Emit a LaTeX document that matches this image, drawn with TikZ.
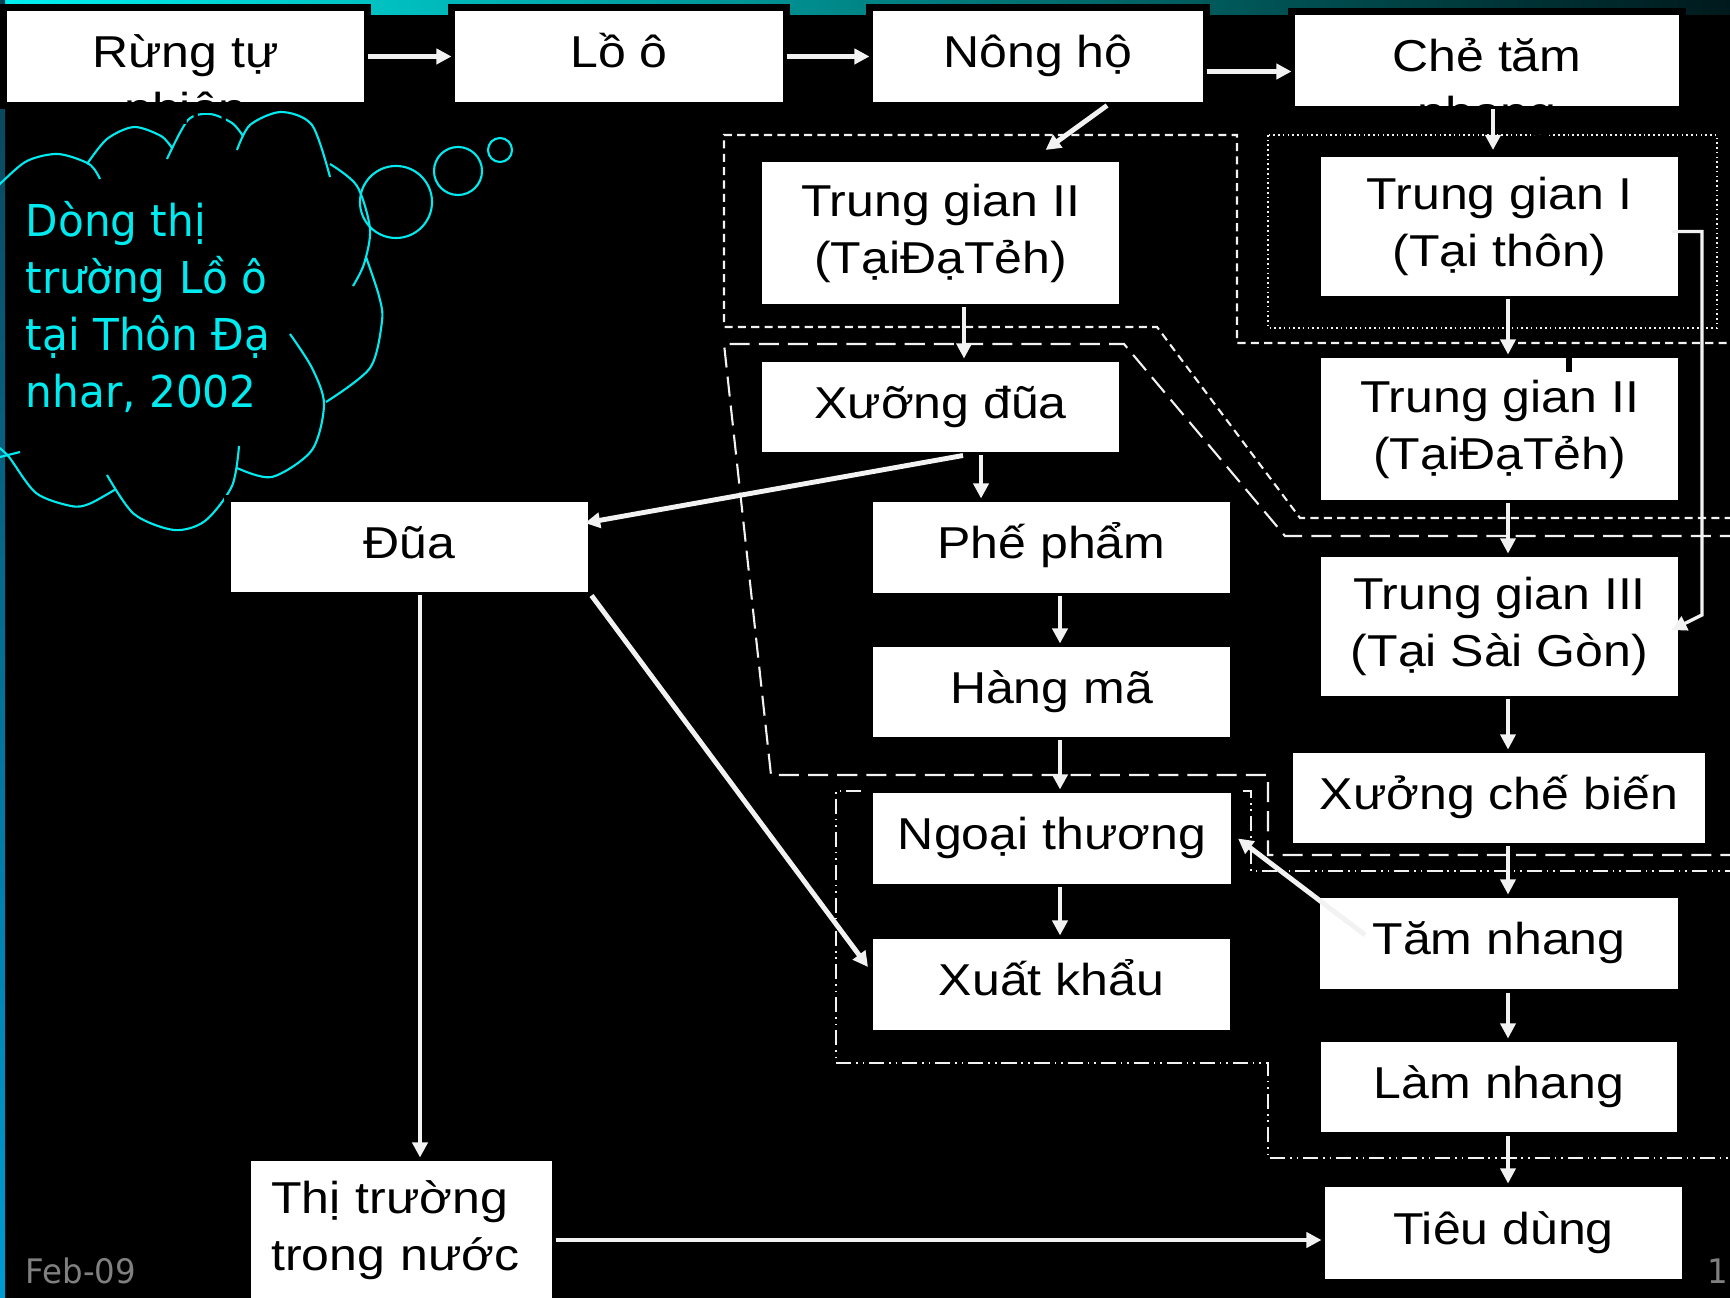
\documentclass[tikz,border=0pt]{standalone}
\usepackage{fontspec}
\usetikzlibrary{arrows.meta,calc}
\newfontfamily\boxfont{Liberation Sans}[FakeStretch=1.12]
\newfontfamily\slidefont{DejaVu Sans}[FakeStretch=0.96]
\definecolor{cloudcyan}{RGB}{0,235,240}
\definecolor{barcyan}{RGB}{0,240,240}
\definecolor{barmid}{RGB}{0,190,195}
\definecolor{bardark}{RGB}{0,25,28}
\definecolor{stripdark}{RGB}{10,65,85}
\definecolor{stripblue}{RGB}{0,155,210}
\definecolor{flowwhite}{RGB}{242,242,242}
\definecolor{footgray}{RGB}{128,128,128}

\begin{document}
\begin{tikzpicture}[x=0.01cm, y=-0.01cm,
    box/.style 2 args={draw=black, line width=2pt, fill=white, inner sep=0pt, outer sep=0pt,
      minimum width=#1*0.01cm+0.07cm, minimum height=#2*0.01cm+0.07cm,
      font=\boxfont\fontsize{12.7pt}{16.2pt}\selectfont},
    onebox/.style 2 args={box={#1}{#2}, text height=9.1pt, text depth=2.7pt},
    twobox/.style 2 args={box={#1}{#2}, align=center},
    overflow/.style={font=\boxfont\fontsize{12.7pt}{16.2pt}\selectfont, text=black, anchor=base, inner sep=0pt},
    flow/.style={draw=flowwhite, line width=1.4pt, -{Triangle[width=4.3pt,length=4.3pt]}},
    thinflow/.style={flow, line width=0.95pt},
    zonea/.style={draw=flowwhite, line width=0.6pt, dash pattern=on 2.3pt off 1.5pt},
    zoneb/.style={draw=flowwhite, line width=0.6pt, dash pattern=on 5.7pt off 2.6pt},
    zonec/.style={draw=flowwhite, line width=0.55pt, dash pattern=on 4.3pt off 1.4pt on 0.45pt off 1.4pt on 0.45pt off 1.4pt},
    zoned/.style={draw=flowwhite, line width=0.5pt, dash pattern=on 0.45pt off 0.9pt},
    cloudline/.style={draw=cloudcyan, line width=0.6pt},
    foot/.style={font=\slidefont\fontsize{9.6pt}{11pt}\selectfont, text=footgray, anchor=base west, inner sep=0pt}]
    % 1. Nền đen, thanh màu phía trên và bên trái
    \fill[black] (0,0) rectangle (1730,1298);
    \useasboundingbox (0,0) rectangle (1730,1298);
    \clip (0,0) rectangle (1730,1298);
    \shade[left color=barcyan, middle color=barmid, right color=bardark] (0,0) rectangle (1730,15);
    \shade[top color=stripdark, bottom color=stripblue] (0,0) rectangle (5,1298);

    % 2. Các vùng nét đứt
    \draw[zonea] (1740,343) -- (1237,343) -- (1237,135) -- (724,135) -- (724,327) -- (1157,327) -- (1300,518) -- (1740,518);
    \draw[zoneb] (1740,536) -- (1285,536) -- (1124,344) -- (724,344) -- (771,775) -- (1268,775) -- (1268,855) -- (1740,855);
    \draw[zonec] (1740,871) -- (1251,871) -- (1251,791) -- (836,791) -- (836,1063) -- (1268,1063) -- (1268,1158) -- (1740,1158);
    \draw[zoned] (1268,135) rectangle (1717,328);

    % 3. Đám mây
    \draw[cloudline] plot[smooth] coordinates {(-5,190) (2,182) (27,161) (58,154) (89,164) (100,179)};
    \draw[cloudline] plot[smooth] coordinates {(87,164) (107,139) (134,127) (161,136) (172,148)};
    \draw[cloudline] plot[smooth] coordinates {(167,159) (188,120) (210,114) (232,123) (243,136)};
    \draw[cloudline] plot[smooth] coordinates {(237,150) (250,125) (281,112) (312,125) (330,177)};
    \draw[cloudline] plot[smooth] coordinates {(330,164) (357,186) (370,229) (364,264) (353,286)};
    \draw[cloudline] plot[smooth] coordinates {(366,257) (379,296) (382,321) (370,368) (326,402)};
    \draw[cloudline] plot[smooth] coordinates {(290,334) (312,368) (324,404) (312,450) (272,477) (237,468)};
    \draw[cloudline] plot[smooth] coordinates {(239,446) (232,486) (205,521) (174,530) (134,514) (107,475)};
    \draw[cloudline] plot[smooth] coordinates {(116,489) (89,504) (71,506) (36,493) (9,457) (-3,446)};
    \draw[cloudline] (0,457) -- (20,452);
    \draw[cloudline] (396,202) circle[radius=0.36cm];
    \draw[cloudline] (458,171) circle[radius=0.24cm];
    \draw[cloudline] (500,150) circle[radius=0.12cm];
    \node[font=\slidefont\fontsize{12.5pt}{16.2pt}\selectfont, text=cloudcyan, align=left,
      anchor=north west, inner sep=0pt] (cloudtext) at (25,201)
      {Dòng thị\\trường Lồ ô\\tại Thôn Đạ\\nhar, 2002};

    % 4. Các hộp
    \node[onebox={357}{91}] (rung) at (185.5,56.5) {Rừng tự};
    \node[onebox={328}{91}] (loo) at (619,56.5) {Lồ ô};
    \node[onebox={330}{91}] (nongho) at (1038,56.5) {Nông hộ};
    \node[onebox={384}{91}] (chetam) at (1487,60.5) {Chẻ tăm};
    \node[overflow] (rungb) at (185.5,125) {nhiên};
    \node[overflow] (chetamb) at (1487,129) {nhang};
    \node[twobox={357}{142}] (tgiia) at (940.5,233) {Trung gian II\\(TạiĐạTẻh)};
    \node[twobox={357}{139}] (tgi) at (1499.5,226.5) {Trung gian I\\(Tại thôn)};
    \node[onebox={357}{90}] (xuongdua) at (940.5,407) {Xưỡng đũa};
    \node[twobox={357}{142}] (tgiib) at (1499.5,429) {Trung gian II\\(TạiĐạTẻh)};
    \node[onebox={357}{90}] (dua) at (409.5,547) {Đũa};
    \node[onebox={357}{91}] (phepham) at (1051.5,547.5) {Phế phẩm};
    \node[twobox={357}{139}] (tgiii) at (1499.5,626.5) {Trung gian III\\(Tại Sài Gòn)};
    \node[onebox={357}{90}] (hangma) at (1051.5,692) {Hàng mã};
    \node[onebox={412}{90}] (xuongcb) at (1499,798) {Xưởng chế biến};
    \node[onebox={358}{91}] (ngoai) at (1052,838.5) {Ngoại thương};
    \node[onebox={358}{91}] (tamnhang) at (1499,943.5) {Tăm nhang};
    \node[onebox={357}{91}] (xuatkhau) at (1051.5,984.5) {Xuất khẩu};
    \node[onebox={356}{90}] (lamnhang) at (1499,1087) {Làm nhang};
    \node[onebox={357}{92}] (tieudung) at (1503.5,1233) {Tiêu dùng};
    \node[box={301}{139}, text width=2.6cm, align=left] (thitruong) at (401.5,1230.5) {Thị trường\\trong nước};
    \fill[black] (1566,356) rectangle (1572,372);

    % 5. Các mũi tên
    \draw[flow] (rung) -- (loo);
    \draw[flow] (loo) -- (nongho);
    \draw[flow] ([yshift=-0.15cm]nongho.east) -- ([yshift=-0.15cm]nongho.east -| chetam.west);
    \draw[flow] ([xshift=0.69cm]nongho.south) -- ([xshift=1.05cm,yshift=0.085cm]tgiia.north);
    \draw[flow] ([xshift=0.06cm]chetam.south) -- ([xshift=0.06cm,yshift=0.035cm]chetam.south |- tgi.north);
    \draw[thinflow] ([xshift=0.235cm]tgiia.south) -- ([xshift=0.235cm]tgiia.south |- xuongdua.north);
    \draw[thinflow] ([xshift=0.085cm]tgi.south) -- ([xshift=0.085cm]tgi.south |- tgiib.north);
    \draw[thinflow] ([xshift=-0.1cm,yshift=-0.05cm]tgi.east) -| ($(tgiii.east)+(20.5,-11.5)$)
        -- ([xshift=-0.1cm,yshift=-0.035cm]tgiii.east);
    \draw[thinflow] ([xshift=0.085cm]tgiib.south) -- ([xshift=0.085cm]tgiib.south |- tgiii.north);
    \draw[thinflow] ([xshift=0.085cm]tgiii.south) -- ([xshift=0.085cm]tgiii.south |- xuongcb.north);
    \draw[thinflow] ([xshift=0.09cm]xuongcb.south) -- ([xshift=0.09cm]xuongcb.south |- tamnhang.north);
    \draw[thinflow] ([xshift=0.09cm]tamnhang.south) -- ([xshift=0.09cm]tamnhang.south |- lamnhang.north);
    \draw[thinflow] ([xshift=0.09cm]lamnhang.south) -- ([xshift=0.09cm]lamnhang.south |- tieudung.north);
    \draw[flow] ([xshift=0.485cm,yshift=0.085cm]tamnhang.west) -- ([xshift=0.035cm]ngoai.east);
    \draw[flow] ([xshift=0.225cm]xuongdua.south) -- ([xshift=-0.065cm,yshift=0.24cm]dua.east);
    \draw[flow] ([xshift=0.405cm]xuongdua.south) -- ([xshift=0.405cm]xuongdua.south |- phepham.north);
    \draw[flow] ([xshift=0.085cm]phepham.south) -- ([xshift=0.085cm]phepham.south |- hangma.north);
    \draw[flow] ([xshift=0.085cm]hangma.south) -- ([xshift=0.085cm]hangma.south |- ngoai.north);
    \draw[flow] ([xshift=0.08cm]ngoai.south) -- ([xshift=0.08cm]ngoai.south |- xuatkhau.north);
    \draw[flow] (dua.south east) -- ([xshift=-0.015cm,yshift=0.175cm]xuatkhau.west);
    \draw[flow] ([xshift=0.105cm]dua.south) -- ([xshift=0.105cm]dua.south |- thitruong.north);
    \draw[flow] ([yshift=-0.095cm]thitruong.east) -- ([yshift=-0.095cm]thitruong.east -| tieudung.west);

    % 6. Chân trang
    \node[foot] (date) at (25,1283) {Feb-09};
    \node[foot] (pagenum) at (1707,1283) {11};
\end{tikzpicture}
\end{document}
